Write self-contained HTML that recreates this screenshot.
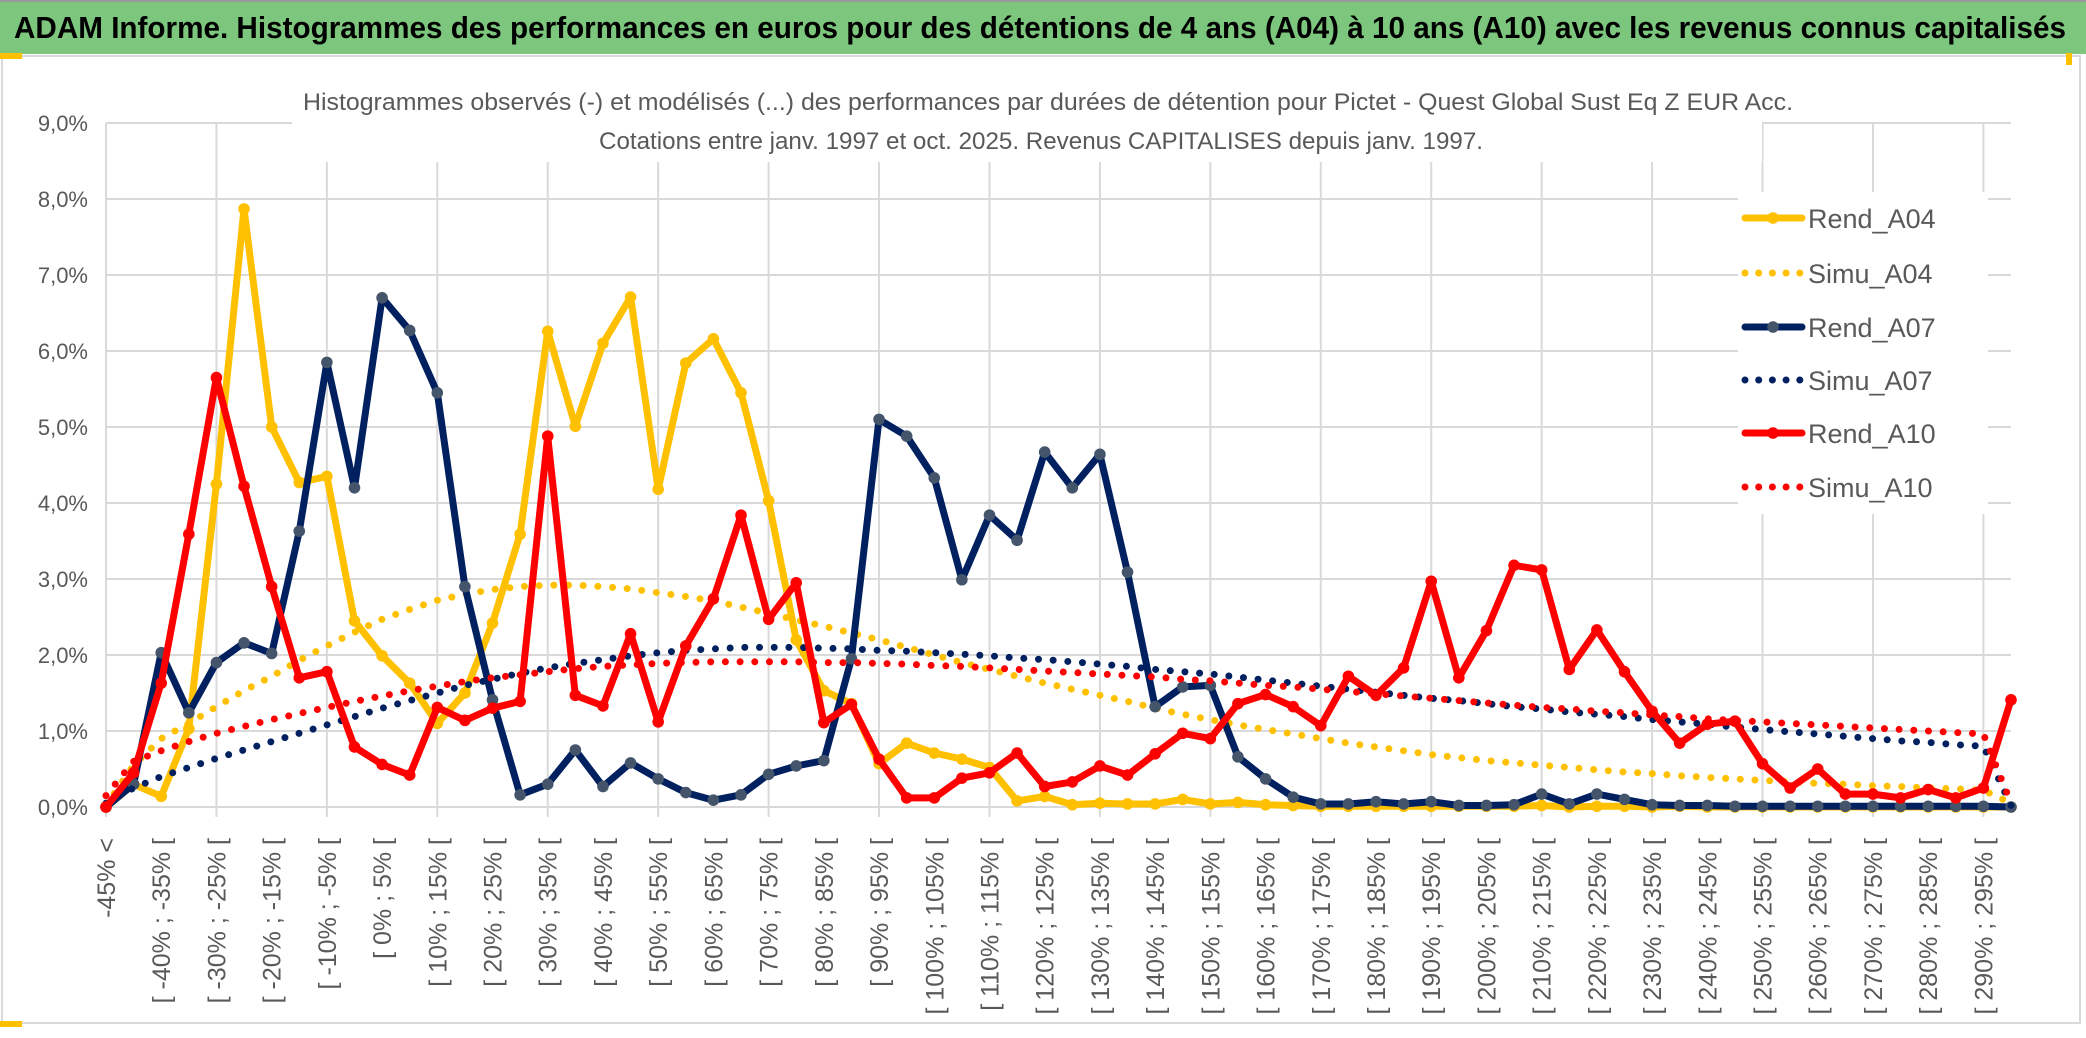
<!DOCTYPE html>
<html><head><meta charset="utf-8">
<style>
html,body{margin:0;padding:0;background:#fff;}
body{width:2086px;height:1033px;overflow:hidden;font-family:"Liberation Sans",sans-serif;}
svg text{font-family:"Liberation Sans",sans-serif;}
</style></head>
<body>
<svg id="chart" width="2086" height="1033" viewBox="0 0 2086 1033" xmlns="http://www.w3.org/2000/svg">
  <rect x="0" y="0" width="2086" height="1033" fill="#ffffff"/>
  <rect x="0" y="0" width="2086" height="54" fill="#7dc67d"/>
  <rect x="0" y="0" width="2086" height="2" fill="#9a9a9a"/>
  <text x="14" y="38" font-size="31" font-weight="bold" fill="#000" textLength="2052" lengthAdjust="spacingAndGlyphs">ADAM Informe. Histogrammes des performances en euros pour des détentions de 4 ans (A04) à 10 ans (A10) avec les revenus connus capitalisés</text>
  <rect x="2" y="56" width="2078" height="967" fill="#fff" stroke="#d9d9d9" stroke-width="2"/>
  <rect x="0" y="53" width="22" height="6" fill="#ffc000"/>
  <rect x="0" y="1021" width="22" height="6" fill="#ffc000"/>
  <rect x="2066" y="53" width="6" height="12" fill="#ffc000"/>
  <g id="grid"></g>
  <rect x="292" y="64" width="1470" height="98" fill="#fff"/>
  <text x="1048" y="110" font-size="24" fill="#595959" text-anchor="middle" textLength="1490" lengthAdjust="spacingAndGlyphs">Histogrammes observés (-) et modélisés (...) des performances par durées de détention pour Pictet - Quest Global Sust Eq Z EUR Acc.</text>
  <text x="1041" y="149" font-size="24" fill="#595959" text-anchor="middle" textLength="884" lengthAdjust="spacingAndGlyphs">Cotations entre janv. 1997 et oct. 2025. Revenus CAPITALISES depuis janv. 1997.</text>
  <g id="yaxis"></g>
  <g id="xaxis"></g>
  <g id="series"></g>
  <g id="legend"></g>
</svg>
<script>
const rendA04 = [0.0,0.3,0.14,1.03,4.25,7.87,5.0,4.27,4.35,2.45,1.99,1.63,1.1,1.5,2.42,3.59,6.26,5.01,6.1,6.71,4.18,5.84,6.16,5.45,4.03,2.2,1.53,1.36,0.57,0.84,0.71,0.63,0.52,0.08,0.14,0.03,0.05,0.04,0.04,0.1,0.04,0.06,0.03,0.02,0.01,0.01,0.01,0.01,0.01,0.01,0.01,0.01,0.02,0.0,0.01,0.01,0.0,0.01,0.0,0.0,0.0,0.0,0.0,0.0,0.0,0.0,0.0,0.0,0.0,0.0];
const simuA04 = [0.02,0.55,0.9,1.1,1.32,1.53,1.72,1.93,2.12,2.3,2.47,2.6,2.72,2.8,2.86,2.9,2.92,2.92,2.9,2.87,2.82,2.77,2.71,2.63,2.55,2.46,2.38,2.29,2.2,2.1,2.0,1.9,1.81,1.72,1.63,1.55,1.47,1.39,1.3,1.22,1.15,1.08,1.02,0.96,0.9,0.84,0.79,0.74,0.69,0.65,0.61,0.58,0.55,0.52,0.49,0.46,0.44,0.41,0.39,0.37,0.35,0.33,0.31,0.3,0.28,0.27,0.25,0.24,0.22,0.05];
const rendA07 = [0.0,0.3,2.03,1.24,1.9,2.16,2.02,3.63,5.85,4.2,6.7,6.27,5.45,2.9,1.41,0.16,0.3,0.75,0.27,0.58,0.37,0.19,0.09,0.16,0.43,0.54,0.61,1.95,5.1,4.88,4.33,2.99,3.84,3.51,4.67,4.2,4.64,3.09,1.32,1.58,1.6,0.66,0.37,0.13,0.04,0.04,0.07,0.04,0.07,0.02,0.02,0.03,0.17,0.04,0.17,0.1,0.03,0.02,0.02,0.01,0.01,0.01,0.01,0.01,0.01,0.01,0.01,0.01,0.01,0.0];
const simuA07 = [0.05,0.25,0.4,0.52,0.64,0.75,0.86,0.97,1.08,1.19,1.3,1.4,1.5,1.6,1.68,1.76,1.83,1.89,1.94,1.99,2.03,2.06,2.08,2.1,2.1,2.1,2.09,2.08,2.06,2.05,2.03,2.01,1.99,1.96,1.94,1.91,1.88,1.85,1.81,1.78,1.75,1.71,1.67,1.63,1.59,1.55,1.51,1.47,1.43,1.4,1.36,1.32,1.29,1.25,1.22,1.19,1.15,1.12,1.09,1.05,1.02,0.99,0.96,0.93,0.9,0.87,0.85,0.82,0.8,0.02];
const rendA10 = [0.0,0.45,1.63,3.59,5.65,4.22,2.9,1.7,1.78,0.79,0.56,0.42,1.31,1.14,1.3,1.39,4.88,1.47,1.33,2.28,1.12,2.12,2.74,3.84,2.47,2.95,1.11,1.35,0.63,0.12,0.12,0.38,0.45,0.71,0.27,0.33,0.54,0.42,0.7,0.97,0.9,1.36,1.48,1.32,1.07,1.72,1.47,1.83,2.97,1.7,2.32,3.18,3.12,1.81,2.33,1.78,1.26,0.84,1.09,1.13,0.57,0.25,0.5,0.17,0.17,0.12,0.23,0.12,0.25,1.41];
const simuA10 = [0.15,0.6,0.74,0.86,0.97,1.06,1.15,1.23,1.31,1.39,1.46,1.53,1.59,1.65,1.7,1.74,1.78,1.82,1.85,1.87,1.89,1.9,1.91,1.91,1.91,1.91,1.9,1.9,1.89,1.88,1.86,1.85,1.83,1.81,1.79,1.77,1.75,1.73,1.71,1.68,1.66,1.63,1.6,1.58,1.55,1.52,1.49,1.46,1.43,1.4,1.37,1.34,1.31,1.29,1.26,1.24,1.21,1.19,1.16,1.14,1.12,1.1,1.08,1.06,1.04,1.02,1.0,0.98,0.96,0.05];
const yTicks = [0,1,2,3,4,5,6,7,8,9];
const yTickLabels = ["0,0%","1,0%","2,0%","3,0%","4,0%","5,0%","6,0%","7,0%","8,0%","9,0%"];
const categoryLows = [];
for (let k = 0; k < 70; k++) categoryLows.push(-50 + 5 * k);

const NS = "http://www.w3.org/2000/svg";
const X0 = 106, X1 = 2011, Y0 = 807, YPER = 76;
const nCat = categoryLows.length;
function xPos(i){ return X0 + (X1 - X0) * i / (nCat - 1); }
function yPos(v){ return Y0 - v * YPER; }
function mk(tag, attrs, parent){ const e = document.createElementNS(NS, tag); for (const k in attrs) e.setAttribute(k, attrs[k]); parent.appendChild(e); return e; }
function catLabel(i){ if (i === 0) return "-45% <"; const lo = categoryLows[i]; return "[ " + lo + "% ; " + (lo + 5) + "% ["; }

const grid = document.getElementById('grid');
yTicks.forEach(t => {
  const l = mk('line', {x1: X0, x2: X1, y1: yPos(t), y2: yPos(t), stroke: '#d9d9d9', 'stroke-width': 2}, grid);
  
  
});
for (let i = 0; i < nCat; i += 4) {
  const l = mk('line', {x1: xPos(i), x2: xPos(i), y1: yPos(9), y2: Y0 + 10, stroke: '#d9d9d9', 'stroke-width': 2}, grid);
  
  
}

const yaxis = document.getElementById('yaxis');
yTicks.forEach((t, i) => {
  const tx = mk('text', {x: 88, y: yPos(t) + 8, 'font-size': 22, fill: '#595959', 'text-anchor': 'end'}, yaxis);
  tx.textContent = yTickLabels[i];
  
  
});

const xaxis = document.getElementById('xaxis');
for (let i = 0; i < nCat; i += 2) {
  const x = xPos(i);
  const tx = mk('text', {x: 0, y: 0, 'font-size': 25, fill: '#595959', 'text-anchor': 'end', transform: 'translate(' + (x + 9) + ',838) rotate(-90)'}, xaxis);
  tx.textContent = catLabel(i);
  
  
}

const series = document.getElementById('series');
function pts(arr){ return arr.map((v, i) => xPos(i).toFixed(1) + ',' + yPos(v).toFixed(1)).join(' '); }
function rend(arr, color, markerColor, name){
  const g = mk('g', {}, series);
  
  
  mk('polyline', {points: pts(arr), fill: 'none', stroke: color, 'stroke-width': 7, 'stroke-linejoin': 'round', 'stroke-linecap': 'round'}, g);
  arr.forEach((v, i) => {
    const c = mk('circle', {cx: xPos(i), cy: yPos(v), r: 5.8, fill: markerColor}, g);
    
    
  });
}
function simu(arr, color, name){
  const p = mk('polyline', {points: pts(arr), fill: 'none', stroke: color, 'stroke-width': 7, 'stroke-dasharray': '0 14.7', 'stroke-linecap': 'round', 'stroke-linejoin': 'round'}, series);
  
  
}
rend(rendA04, '#ffc000', '#ffc000', 'rend-a04-line');
simu(simuA04, '#ffc000', 'simu-a04-line');
rend(rendA07, '#002060', '#44546a', 'rend-a07-line');
simu(simuA07, '#002060', 'simu-a07-line');
rend(rendA10, '#ff0000', '#ff0000', 'rend-a10-line');
simu(simuA10, '#ff0000', 'simu-a10-line');

const legend = document.getElementById('legend');
mk('rect', {x: 1738, y: 192, width: 250, height: 322, fill: '#fff'}, legend);
const legItems = [
  ['Rend_A04', '#ffc000', '#ffc000', false, 218],
  ['Simu_A04', '#ffc000', null, true, 273],
  ['Rend_A07', '#002060', '#44546a', false, 327],
  ['Simu_A07', '#002060', null, true, 380],
  ['Rend_A10', '#ff0000', '#ff0000', false, 433],
  ['Simu_A10', '#ff0000', null, true, 487]
];
legItems.forEach(it => {
  const g = mk('g', {}, legend);
  
  
  const y = it[4];
  if (it[3]) {
    mk('line', {x1: 1745, x2: 1800, y1: y, y2: y, stroke: it[1], 'stroke-width': 7, 'stroke-dasharray': '0 13.7', 'stroke-linecap': 'round'}, g);
  } else {
    mk('line', {x1: 1745, x2: 1802, y1: y, y2: y, stroke: it[1], 'stroke-width': 7, 'stroke-linecap': 'round'}, g);
    mk('circle', {cx: 1773, cy: y, r: 5.8, fill: it[2]}, g);
  }
  const t = mk('text', {x: 1808, y: y + 10, 'font-size': 27, fill: '#595959'}, g);
  t.textContent = it[0];
});
</script>
</body></html>
